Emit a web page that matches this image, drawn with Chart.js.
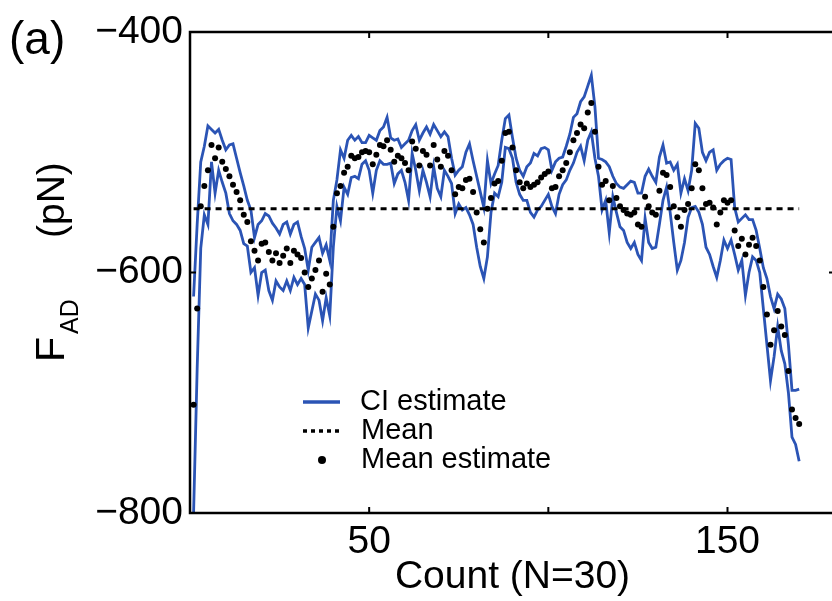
<!DOCTYPE html>
<html>
<head>
<meta charset="utf-8">
<script src="https://cdn.jsdelivr.net/npm/chart.js@4.4.1/dist/chart.umd.min.js"></script>
<style>
  html, body { margin: 0; padding: 0; background: #fff; overflow: hidden; }
  #wrap { width: 850px; height: 601px; position: relative; }
</style>
</head>
<body>
<div id="wrap"><canvas id="chart"></canvas></div>
<script>
// upper / lower confidence bound, one value per count 1..170
const upperCI = [
  -620,-560,-508,-495,-478,-481,-484,-481,-490,-498,
  -494,-493,-505,-517,-528,-540,-548,-571,-560,-557,
  -551,-553,-559,-563,-568,-560,-558,-568,-560,-558,
  -570,-580,-598,-579,-575,-571,-584,-577,-590,-540,
  -523,-498,-505,-490,-486,-490,-487,-492,-492,-486,
  -488,-490,-482,-479,-471,-488,-490,-489,-496,-493,
  -490,-482,-477,-490,-484,-479,-485,-477,-482,-487,
  -483,-487,-505,-519,-515,-512,-500,-493,-507,-520,
  -533,-546,-507,-526,-518,-511,-490,-472,-469,-488,
  -505,-515,-520,-512,-509,-501,-503,-497,-496,-498,
  -515,-508,-505,-504,-495,-485,-471,-468,-458,-454,
  -445,-436,-462,-505,-506,-508,-512,-520,-526,-529,
  -530,-527,-524,-525,-534,-534,-520,-514,-520,-525,
  -504,-494,-509,-508,-515,-510,-534,-522,-532,-515,
  -476,-480,-500,-507,-500,-498,-515,-510,-507,-505,
  -506,-546,-558,-555,-552,-556,-556,-565,-580,-596,
  -605,-620,-630,-618,-622,-630,-660,-698,-698,-697
];
const lowerCI = [
  -800,-680,-580,-552,-560,-508,-534,-515,-525,-534,
  -551,-557,-560,-565,-576,-578,-600,-596,-619,-600,
  -598,-615,-623,-607,-612,-615,-607,-615,-604,-610,
  -605,-610,-646,-632,-618,-623,-640,-621,-636,-579,
  -545,-557,-529,-535,-521,-520,-522,-510,-507,-515,
  -534,-515,-507,-510,-510,-509,-526,-518,-515,-525,
  -540,-501,-515,-532,-515,-525,-537,-512,-530,-537,
  -515,-520,-526,-551,-543,-548,-546,-552,-560,-579,
  -595,-605,-587,-550,-534,-537,-525,-496,-497,-505,
  -525,-535,-540,-540,-550,-554,-548,-545,-540,-535,
  -545,-551,-535,-527,-523,-515,-509,-500,-495,-507,
  -490,-483,-505,-520,-548,-540,-567,-537,-550,-562,
  -565,-575,-580,-575,-585,-590,-555,-575,-580,-579,
  -560,-540,-529,-550,-575,-598,-590,-575,-554,-546,
  -545,-550,-560,-579,-585,-595,-604,-590,-573,-580,
  -573,-585,-598,-590,-619,-600,-587,-590,-600,-630,
  -660,-690,-670,-645,-665,-676,-700,-737,-743,-757
];
const meanEstimate = [
  -710,-630,-545,-528,-515,-494,-505,-496,-508,-514,
  -520,-527,-533,-540,-552,-558,-574,-582,-590,-576,
  -575,-583,-590,-584,-592,-586,-580,-592,-582,-585,
  -588,-600,-612,-605,-598,-590,-616,-601,-610,-562,
  -534,-528,-517,-512,-503,-505,-504,-500,-499,-500,
  -510,-502,-494,-495,-490,-498,-508,-503,-505,-509,
  -515,-491,-497,-511,-499,-502,-511,-494,-506,-512,
  -499,-503,-515,-535,-529,-530,-523,-522,-533,-550,
  -564,-575,-547,-538,-526,-524,-507,-484,-483,-496,
  -515,-525,-530,-526,-529,-527,-525,-521,-518,-516,
  -530,-529,-520,-515,-509,-500,-490,-484,-477,-480,
  -467,-459,-483,-512,-527,-524,-540,-528,-538,-545,
  -548,-551,-552,-550,-560,-562,-537,-545,-550,-552,
  -532,-517,-519,-529,-545,-554,-562,-548,-543,-530,
  -510,-515,-530,-543,-542,-546,-560,-550,-540,-542,
  -540,-565,-578,-572,-585,-577,-571,-578,-590,-612,
  -635,-660,-648,-632,-645,-652,-682,-714,-721,-726
];
const meanValue = -547;
const xTicks = [50, 100, 150];
const xTickLabels = ['50', '', '150'];
const yTicks = [-800, -600, -400];
const yTickLabels = ['\u2212800', '\u2212600', '\u2212400'];

const FONT = "'Liberation Sans', Arial, sans-serif";
const BLUE = '#2b54b5';

const count = upperCI.map((v, i) => i + 1);
const toPoints = arr => arr.map((v, i) => ({ x: count[i], y: v }));

// frame, inner ticks, custom legend, y title and panel letter
const extras = {
  id: 'extras',
  afterDraw(chart) {
    const ctx = chart.ctx;
    const a = chart.chartArea;
    const xs = chart.scales.x, ys = chart.scales.y;
    ctx.save();
    ctx.strokeStyle = '#000';
    ctx.lineWidth = 2.5;
    ctx.strokeRect(a.left, a.top, a.right - a.left, a.bottom - a.top);
    ctx.lineWidth = 2;
    const tl = 6;
    xTicks.forEach(v => {
      const px = xs.getPixelForValue(v);
      ctx.beginPath();
      ctx.moveTo(px, a.bottom); ctx.lineTo(px, a.bottom - tl);
      ctx.moveTo(px, a.top); ctx.lineTo(px, a.top + tl);
      ctx.stroke();
    });
    yTicks.forEach(v => {
      const py = ys.getPixelForValue(v);
      ctx.beginPath();
      ctx.moveTo(a.left, py); ctx.lineTo(a.left + tl, py);
      ctx.moveTo(a.right, py); ctx.lineTo(a.right - tl, py);
      ctx.stroke();
    });

    // legend
    ctx.fillStyle = '#000';
    ctx.font = '29px ' + FONT;
    ctx.textBaseline = 'middle';
    ctx.textAlign = 'left';
    ctx.strokeStyle = BLUE;
    ctx.lineWidth = 3.5;
    ctx.beginPath(); ctx.moveTo(303, 402); ctx.lineTo(340, 402); ctx.stroke();
    ctx.fillText('CI estimate', 360, 402);
    ctx.strokeStyle = '#000';
    ctx.setLineDash([4, 4]);
    ctx.beginPath(); ctx.moveTo(303, 431); ctx.lineTo(340, 431); ctx.stroke();
    ctx.setLineDash([]);
    ctx.fillText('Mean', 361, 431);
    ctx.beginPath(); ctx.arc(322, 460, 4, 0, Math.PI * 2); ctx.fill();
    ctx.fillText('Mean estimate', 361, 460);

    // y axis title F_AD (pN)
    ctx.save();
    ctx.translate(64, 362);
    ctx.rotate(-Math.PI / 2);
    ctx.textBaseline = 'alphabetic';
    ctx.font = '41px ' + FONT;
    ctx.fillText('F', 0, 0);
    ctx.font = '25px ' + FONT;
    ctx.fillText('AD', 28, 14);
    ctx.font = '39px ' + FONT;
    ctx.fillText('(pN)', 124, 0);
    ctx.restore();

    // panel letter
    ctx.font = '46px ' + FONT;
    ctx.textBaseline = 'alphabetic';
    ctx.fillText('(a)', 9, 54);
    ctx.restore();
  }
};

new Chart(document.getElementById('chart').getContext('2d'), {
  type: 'line',
  data: {
    datasets: [
      {
        label: 'Mean estimate',
        data: toPoints(meanEstimate),
        showLine: false,
        pointRadius: 3,
        pointBackgroundColor: '#000',
        pointBorderWidth: 0,
        order: 0
      },
      {
        label: 'Mean',
        data: [{ x: count[0], y: meanValue }, { x: count[count.length - 1], y: meanValue }],
        borderColor: '#000',
        borderWidth: 3.2,
        borderDash: [6, 5],
        pointRadius: 0,
        order: 1
      },
      {
        label: 'CI estimate',
        data: toPoints(upperCI),
        borderColor: BLUE,
        borderWidth: 2.8,
        pointRadius: 0,
        tension: 0,
        order: 2
      },
      {
        label: 'CI lower',
        data: toPoints(lowerCI),
        borderColor: BLUE,
        borderWidth: 2.8,
        pointRadius: 0,
        tension: 0,
        order: 2
      }
    ]
  },
  options: {
    responsive: true,
    maintainAspectRatio: false,
    animation: false,
    layout: { padding: { left: 0, top: 32, right: 15, bottom: 0 } },
    plugins: { legend: { display: false }, tooltip: { enabled: false } },
    scales: {
      x: {
        type: 'linear',
        min: 0,
        max: 180,
        afterBuildTicks: s => { s.ticks = xTicks.map(v => ({ value: v })); },
        afterFit: s => { s.height = 88; },
        grid: { display: false, drawTicks: false },
        border: { display: false },
        ticks: {
          autoSkip: false,
          maxRotation: 0,
          padding: 6,
          color: '#000',
          font: { family: FONT, size: 39 },
          callback: v => xTickLabels[xTicks.indexOf(v)]
        },
        title: {
          display: true,
          text: 'Count (N=30)',
          color: '#000',
          font: { family: FONT, size: 39 },
          padding: { top: 0, bottom: 0 }
        }
      },
      y: {
        type: 'linear',
        min: -800,
        max: -400,
        afterBuildTicks: s => { s.ticks = yTicks.map(v => ({ value: v })); },
        afterFit: s => { s.width = 190; },
        grid: { display: false, drawTicks: false },
        border: { display: false },
        ticks: {
          padding: 7,
          color: '#000',
          font: { family: FONT, size: 39 },
          callback: v => yTickLabels[yTicks.indexOf(v)]
        }
      }
    }
  },
  plugins: [extras]
});
</script>
</body>
</html>
